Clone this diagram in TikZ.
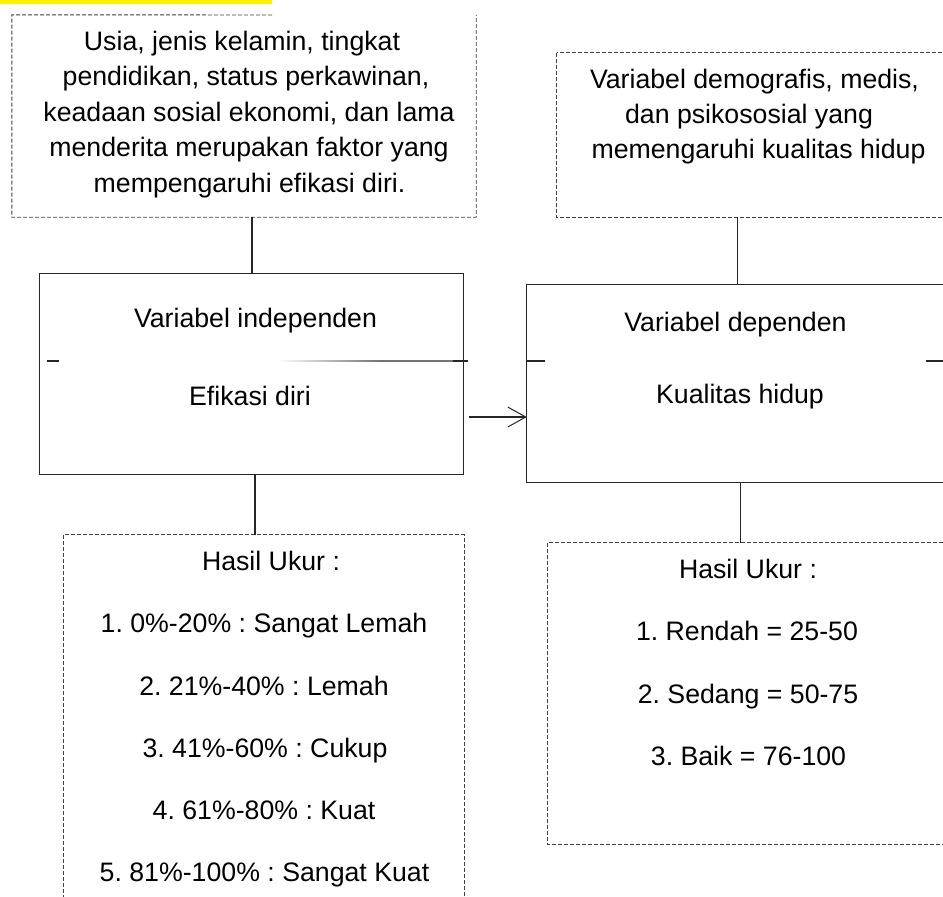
\documentclass[tikz,border=0pt]{standalone}
\usepackage{fontspec}
\setmainfont{Liberation Sans}
\usetikzlibrary{arrows.meta,calc}
\frenchspacing
\begin{document}
\begin{tikzpicture}[x=1pt,y=-1pt,
  txt/.style={anchor=base,inner sep=0pt,font=\fontsize{26.7}{32}\selectfont\frenchspacing},
  shapebox/.style={rectangle,inner sep=0pt,draw=none},
  dline/.style={draw=black!75,line width=0.9pt,dash pattern=on 4pt off 2pt},
  sline/.style={draw=black!85,line width=1.1pt},
  conn/.style={draw=black!85,line width=1.1pt},
  arr/.style={conn,-{Straight Barb[length=18pt,width=20pt,line width=1pt]}}]
\useasboundingbox (0,0) rectangle (943,897);
\clip (0,0) rectangle (943,897);
\fill[yellow] (0,0) rectangle (272,3.5);

% box shapes
\node[shapebox,minimum width=464pt,minimum height=202pt] (tl) at (244,116) {};
\node[shapebox,minimum width=403pt,minimum height=164pt] (tr) at (758.5,135) {};
\node[shapebox,minimum width=423pt,minimum height=200pt] (lb) at (251.5,374) {};
\node[shapebox,minimum width=433pt,minimum height=197pt] (rb) at (743.5,383.5) {};
\node[shapebox,minimum width=400pt,minimum height=385pt] (bl) at (264,727.5) {};
\node[shapebox,minimum width=412pt,minimum height=301pt] (br) at (754,693.5) {};

% borders
\coordinate (tlgap) at (272,15);
\draw[dline] (tlgap) -- (tl.north west) -- (tl.south west) -- (tl.south east) -- (tl.north east);
\draw[dline] (tr.north west) rectangle (tr.south east);
\draw[sline] (lb.north west) rectangle (lb.south east);
\draw[sline] (rb.north west) rectangle (rb.south east);
\draw[dline] (bl.north west) rectangle (bl.south east);
\draw[dline] (br.north west) rectangle (br.south east);

% middle separator remnants
\draw[conn] (47,361) -- (59,361);
\shade[left color=white,right color=black!55] (277,360.4) rectangle (380,361.6);
\draw[draw=black!55,line width=1.1pt] (380,361) -- (453,361);
\draw[conn] (453,361) -- (468,361);
\draw[conn] (527,361) -- (545,361);
\draw[conn] (926,361) -- (950,361);

% connectors
\coordinate (k1) at (252,0);
\coordinate (k2) at (255,0);
\coordinate (k3) at (737.5,0);
\coordinate (k4) at (740.5,0);
\draw[conn] (tl.south -| k1) -- (lb.north -| k1);
\draw[conn] (lb.south -| k2) -- (bl.north -| k2);
\draw[conn] (tr.south -| k3) -- (rb.north -| k3);
\draw[conn] (rb.south -| k4) -- (br.north -| k4);
\coordinate (a0) at (469,417);
\draw[arr] (a0) -- (rb.west |- a0);

% texts
\node[txt] (tl1) at (242,50) {Usia, jenis kelamin, tingkat};
\node[txt] (tl2) at (246,85.5) {pendidikan, status perkawinan,};
\node[txt] (tl3) at (249,121) {keadaan sosial ekonomi, dan lama};
\node[txt] (tl4) at (249,156.5) {menderita merupakan faktor yang};
\node[txt] (tl5) at (249.5,192) {mempengaruhi efikasi diri.};

\node[txt] (tr1) at (754.5,88) {Variabel demografis, medis,};
\node[txt] (tr2) at (749,123) {dan psikososial yang};
\node[txt] (tr3) at (758.5,158) {memengaruhi kualitas hidup};

\node[txt] (lb1) at (255.5,327) {Variabel independen};
\node[txt] (lb2) at (250,405) {Efikasi diri};
\node[txt] (rb1) at (735.5,331) {Variabel dependen};
\node[txt] (rb2) at (740,403) {Kualitas hidup};

\node[txt] (bl0) at (271,570) {Hasil Ukur :};
\node[txt] (bl1) at (264,632) {1. 0\%-20\% : Sangat Lemah};
\node[txt] (bl2) at (264,695) {2. 21\%-40\% : Lemah};
\node[txt] (bl3) at (265,757) {3. 41\%-60\% : Cukup};
\node[txt] (bl4) at (264,819) {4. 61\%-80\% : Kuat};
\node[txt] (bl5) at (264.5,881) {5. 81\%-100\% : Sangat Kuat};

\node[txt] (br0) at (748,578) {Hasil Ukur :};
\node[txt] (br1) at (747,640) {1. Rendah = 25-50};
\node[txt] (br2) at (748,703) {2. Sedang = 50-75};
\node[txt] (br3) at (748.5,765) {3. Baik = 76-100};
\end{tikzpicture}
\end{document}
